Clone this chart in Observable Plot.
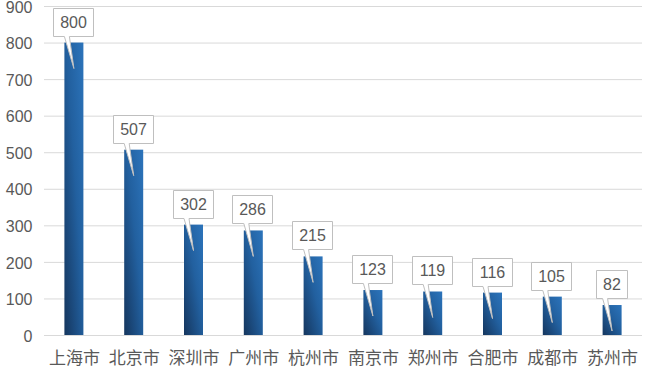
<!DOCTYPE html>
<html>
<head>
<meta charset="utf-8">
<script src="https://cdn.jsdelivr.net/npm/d3@7"></script>
<script src="https://cdn.jsdelivr.net/npm/@observablehq/plot@0.6"></script>
<style>
  html, body { margin: 0; padding: 0; background: #fff; }
  #chart { width: 656px; height: 374px; }
</style>
</head>
<body>
<div id="chart"></div>
<script>
const cities = ["上海市", "北京市", "深圳市", "广州市", "杭州市", "南京市", "郑州市", "合肥市", "成都市", "苏州市"];
const values = [800, 507, 302, 286, 215, 123, 119, 116, 105, 82];
const yTicks = [0, 100, 200, 300, 400, 500, 600, 700, 800, 900];

const data = cities.map((c, i) => ({city: c, value: values[i]}));
const FONT = '"Liberation Sans", Arial, "Noto Sans CJK SC", sans-serif';

const chart = Plot.plot({
  width: 656,
  height: 374,
  marginTop: 6,
  marginBottom: 39,
  marginLeft: 44,
  marginRight: 14,
  style: {fontFamily: FONT, fontSize: "16px", color: "#595959", background: "#fff", overflow: "visible"},
  x: {domain: cities, padding: 0, round: false, label: null},
  y: {domain: [0, 900], label: null},
  marks: [
    Plot.gridY(yTicks, {stroke: "#d9d9d9", strokeOpacity: 1}),
    Plot.barY(data, {x: "city", y: "value", fill: "url(#barGrad)", insetLeft: 20.4, insetRight: 20.4}),
    Plot.axisY(yTicks, {tickSize: 0, tickPadding: 12, label: null, fontSize: 16, dy: 1}),
    Plot.axisX({tickSize: 0, tickPadding: 16, label: null, fontSize: 17})
  ]
});

const svgNS = "http://www.w3.org/2000/svg";
const defs = document.createElementNS(svgNS, "defs");
defs.innerHTML = `<linearGradient id="barGrad" x1="0" y1="1" x2="1" y2="0">
  <stop offset="0" stop-color="#15365e"/>
  <stop offset="0.55" stop-color="#22609f"/>
  <stop offset="1" stop-color="#2c74bb"/>
</linearGradient>`;
chart.insertBefore(defs, chart.firstChild);

// callouts via the plot's own scales
const xs = chart.scale("x");
const ys = chart.scale("y");
const bw = xs.bandwidth || 0;
const g = document.createElementNS(svgNS, "g");
data.forEach(d => {
  const cx = xs.apply(d.city) + bw / 2;
  const top = ys.apply(d.value);
  const tip = top + 26;
  const bottom = Math.round(tip - 33) + 0.5;
  const boxTop = bottom - 28;
  const label = String(d.value);
  const w = 8.9 * label.length + 13;
  const left = Math.round(cx - 1 - w / 2) + 0.5;
  const right = left + Math.round(w);
  const p = document.createElementNS(svgNS, "path");
  p.setAttribute("d",
    `M${left},${boxTop}H${right}V${bottom}H${cx - 4.5}L${cx},${tip}L${cx - 9.5},${bottom}H${left}Z`);
  p.setAttribute("fill", "#fff");
  p.setAttribute("stroke", "#bfbfbf");
  p.setAttribute("stroke-width", "1");
  g.appendChild(p);
  const t = document.createElementNS(svgNS, "text");
  t.setAttribute("x", (left + right) / 2);
  t.setAttribute("y", (boxTop + bottom) / 2);
  t.setAttribute("dy", "0.35em");
  t.setAttribute("text-anchor", "middle");
  t.setAttribute("fill", "#595959");
  t.setAttribute("font-size", "16");
  t.setAttribute("font-family", FONT);
  t.textContent = label;
  g.appendChild(t);
});
chart.appendChild(g);

document.getElementById("chart").appendChild(chart);
</script>
</body>
</html>
